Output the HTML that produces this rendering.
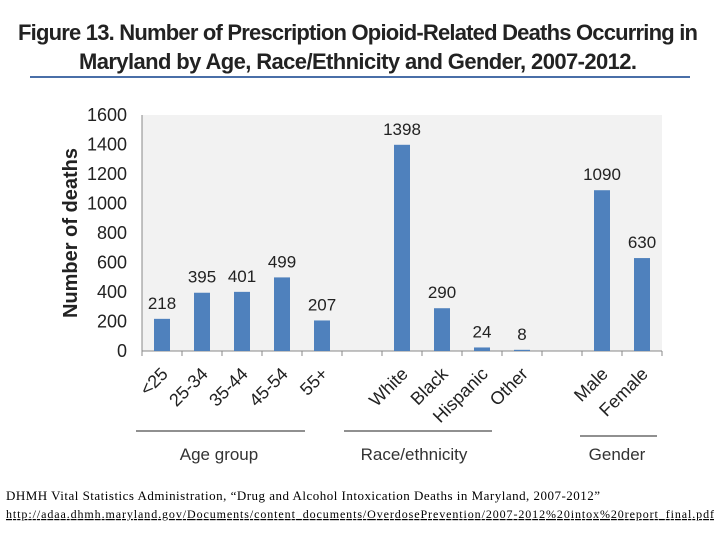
<!DOCTYPE html>
<html><head><meta charset="utf-8"><style>
body{margin:0;width:720px;height:540px;background:#fff;overflow:hidden;font-family:"Liberation Sans",sans-serif}
</style></head><body>
<svg width="720" height="540">
<text x="358" y="40" text-anchor="middle" font-size="22" font-weight="bold" fill="#222" textLength="680">Figure 13.  Number of Prescription Opioid-Related Deaths Occurring in</text>
<text x="358" y="69" text-anchor="middle" font-size="22" font-weight="bold" fill="#222" textLength="558">Maryland by Age, Race/Ethnicity and Gender,  2007-2012.</text>
<line x1="30" y1="77" x2="690" y2="77" stroke="#4a6fa8" stroke-width="2"/>
<rect x="142" y="115" width="520" height="236" fill="#f2f2f2"/>
<g id="g"></g>
<text transform="translate(77,233) rotate(-90)" text-anchor="middle" font-size="20" font-weight="bold" fill="#222">Number of deaths</text>
<line x1="136" y1="431" x2="305" y2="431" stroke="#222"/>
<line x1="344" y1="431" x2="492" y2="431" stroke="#222"/>
<line x1="580" y1="436" x2="657" y2="436" stroke="#222"/>
<text x="219" y="460" text-anchor="middle" font-size="17" fill="#333">Age group</text>
<text x="414" y="460" text-anchor="middle" font-size="17" fill="#333">Race/ethnicity</text>
<text x="617" y="460" text-anchor="middle" font-size="17" fill="#333">Gender</text>
<text x="6" y="500" font-family="Liberation Serif,serif" font-size="13" fill="#000" textLength="594">DHMH Vital Statistics Administration, “Drug and Alcohol Intoxication Deaths in Maryland, 2007-2012”</text>
<text x="6" y="518" font-family="Liberation Serif,serif" font-size="12" fill="#000" text-decoration="underline" textLength="708">http://adaa.dhmh.maryland.gov/Documents/content_documents/OverdosePrevention/2007-2012%20intox%20report_final.pdf</text>
</svg>
<script>
const categories=["<25","25-34","35-44","45-54","55+","","White","Black","Hispanic","Other","","Male","Female"];
const values=[218,395,401,499,207,null,1398,290,24,8,null,1090,630];
const yTicks=[0,200,400,600,800,1000,1200,1400,1600];
const NS="http://www.w3.org/2000/svg",g=document.getElementById('g');
const x0=142,cw=40,yb=351,yt=115,ymax=1600;
const y=v=>yb-(v/ymax)*(yb-yt);
function mk(t,a,txt){const e=document.createElementNS(NS,t);for(const k in a)e.setAttribute(k,a[k]);if(txt!=null)e.textContent=txt;g.appendChild(e);return e;}
yTicks.forEach(v=>{const e=mk('text',{x:127,y:y(v)+6,'text-anchor':'end','font-size':18,fill:'#222'},v);

});
mk('line',{x1:x0,y1:yt,x2:x0,y2:yb,stroke:'#888'});
mk('line',{x1:x0,y1:yb,x2:x0+cw*categories.length,y2:yb,stroke:'#888'});
for(let i=0;i<=categories.length;i++){mk('line',{x1:x0+i*cw,y1:yb,x2:x0+i*cw,y2:yb+5,stroke:'#888'});}
categories.forEach((c,i)=>{const cx=x0+i*cw+cw/2;const v=values[i];
if(v!=null){const r=mk('rect',{x:cx-8,y:y(v),width:16,height:yb-y(v),fill:'#4f81bd'});


const t=mk('text',{x:cx,y:y(v)-10,'text-anchor':'middle','font-size':17,fill:'#222'},v);

}
if(c){const t=mk('text',{transform:`translate(${cx+7},${yb+24}) rotate(-45)`,'text-anchor':'end','font-size':18,fill:'#222'},c);

}
});
</script>
</body></html>
